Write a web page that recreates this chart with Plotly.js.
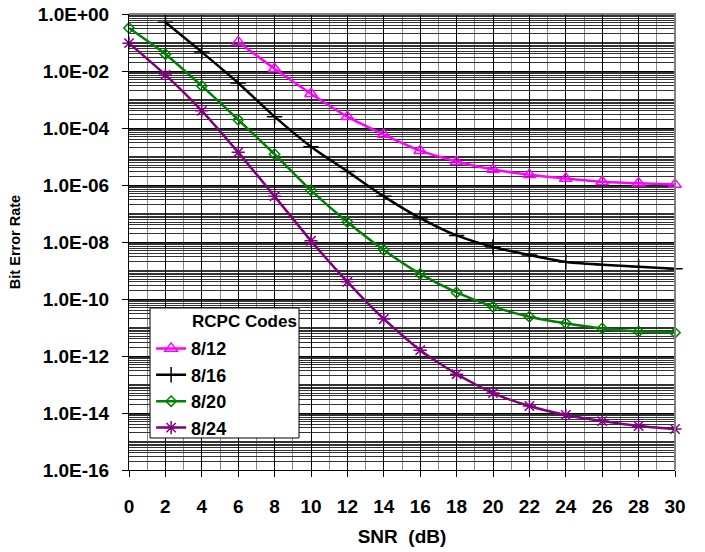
<!DOCTYPE html>
<html>
<head>
<meta charset="utf-8">
<script src="https://cdn.plot.ly/plotly-3.0.1.min.js"></script>
<style>
html,body{margin:0;padding:0;background:#fff;}
#chart{width:705px;height:552px;}
</style>
</head>
<body>
<div id="chart"></div>
<script>
// SNR in dB
var snr = [0, 2, 4, 6, 8, 10, 12, 14, 16, 18, 20, 22, 24, 26, 28, 30];
// Bit error rates per RCPC code rate
var ber_8_12 = [null, null, null, 1.05e-1, 1.2e-2, 1.6e-3, 2.5e-4, 5.9e-5, 1.6e-5, 6.7e-6, 3.5e-6, 2.3e-6, 1.7e-6, 1.3e-6, 1.15e-6, 1.05e-6];
var ber_8_16 = [null, 5.1e-1, 4.6e-2, 3.8e-3, 2.5e-4, 2.2e-5, 3.0e-6, 4.0e-7, 6.9e-8, 1.7e-8, 6.7e-9, 3.5e-9, 2.0e-9, 1.6e-9, 1.35e-9, 1.15e-9];
var ber_8_20 = [3.2e-1, 3.9e-2, 3.0e-3, 1.95e-4, 1.2e-5, 6.5e-7, 5.0e-8, 5.2e-9, 7.6e-10, 1.7e-10, 5.4e-11, 2.4e-11, 1.4e-11, 9.2e-12, 7.2e-12, 6.6e-12];
var ber_8_24 = [9.5e-2, 7.3e-3, 4.0e-4, 1.4e-5, 4.0e-7, 1.1e-8, 4.0e-10, 2.0e-11, 1.6e-12, 2.3e-13, 5.0e-14, 1.75e-14, 8.5e-15, 5.2e-15, 3.5e-15, 2.75e-15];
var seriesNames = ["8/12", "8/16", "8/20", "8/24"];
// Y tick labels
var yTickVals = [1, 1e-2, 1e-4, 1e-6, 1e-8, 1e-10, 1e-12, 1e-14, 1e-16];
var yTickText = ["1.0E+00", "1.0E-02", "1.0E-04", "1.0E-06", "1.0E-08", "1.0E-10", "1.0E-12", "1.0E-14", "1.0E-16"];
var legendTitle = "RCPC Codes";

var FONT = "Liberation Sans, Arial, sans-serif";

function trace(y, name, color, symbol, msize) {
  return {
    x: snr, y: y, name: name, type: "scatter", mode: "lines+markers",
    connectgaps: false, cliponaxis: false,
    line: {color: color, width: 2.5, shape: "spline", smoothing: 0.6},
    marker: {symbol: symbol, size: msize, color: color, line: {color: color, width: 1.5}}
  };
}

var data = [
  trace(ber_8_12, seriesNames[0], "#FF00FF", "triangle-up-open", 11),
  trace(ber_8_16, seriesNames[1], "#000000", "cross-thin-open", 11),
  trace(ber_8_20, seriesNames[2], "#008000", "diamond-open", 8),
  trace(ber_8_24, seriesNames[3], "#800080", "asterisk-open", 11)
];

var layout = {
  width: 705, height: 552,
  margin: {l: 129, r: 30, t: 14, b: 82, pad: 0},
  paper_bgcolor: "#fff", plot_bgcolor: "#fff",
  font: {family: FONT, color: "#000", weight: 700},
  showlegend: true,
  xaxis: {
    range: [0, 30], tick0: 0, dtick: 2,
    showgrid: true, gridcolor: "#000", gridwidth: 1,
    minor: {dtick: 1, showgrid: true, gridcolor: "#8a8a8a", gridwidth: 1},
    showline: true, linecolor: "#000", linewidth: 1,
    ticks: "outside", ticklen: 6, tickcolor: "#000",
    ticklabelstandoff: 13,
    tickfont: {family: FONT, size: 19, weight: 700},
    zeroline: false,
    title: {text: "SNR&nbsp;&nbsp;(dB)", font: {family: FONT, size: 19, weight: 700}, standoff: 13}
  },
  yaxis: {
    type: "log", range: [-16, 0],
    tickmode: "array", tickvals: yTickVals, ticktext: yTickText,
    showgrid: true, gridcolor: "#000", gridwidth: 1,
    minor: {dtick: "D1", showgrid: true, gridcolor: "#333", gridwidth: 1},
    showline: true, linecolor: "#000", linewidth: 1,
    ticks: "outside", ticklen: 6, tickcolor: "#000",
    ticklabelstandoff: 9,
    tickfont: {family: FONT, size: 19, weight: 700},
    zeroline: false,
    title: {text: "Bit Error Rate", font: {family: FONT, size: 14.5, weight: 700}, standoff: 13}
  },
  shapes: [
    {type: "path", xref: "paper", yref: "paper", path: "M0,1 L1,1 L1,0", line: {color: "#808080", width: 2}, layer: "above"},
    {type: "rect", xref: "paper", yref: "paper", x0: 0.0385, x1: 0.3114, y0: 0.0702, y1: 0.3553,
     fillcolor: "#fff", line: {color: "#000", width: 1}, layer: "above"}
  ],
  annotations: [
    {text: legendTitle, xref: "paper", yref: "paper", x: 0.1117, y: 0.3246, xanchor: "left", yanchor: "middle",
     showarrow: false, font: {family: FONT, size: 17, weight: 700}}
  ],
  legend: {
    x: 0.0405, y: 0.3066, xanchor: "left", yanchor: "top",
    bgcolor: "rgba(0,0,0,0)", borderwidth: 0,
    font: {family: FONT, size: 18, weight: 700},
    itemwidth: 30, tracegroupgap: 0
  }
};

Plotly.newPlot("chart", data, layout, {displayModeBar: false, staticPlot: true});
</script>
</body>
</html>
